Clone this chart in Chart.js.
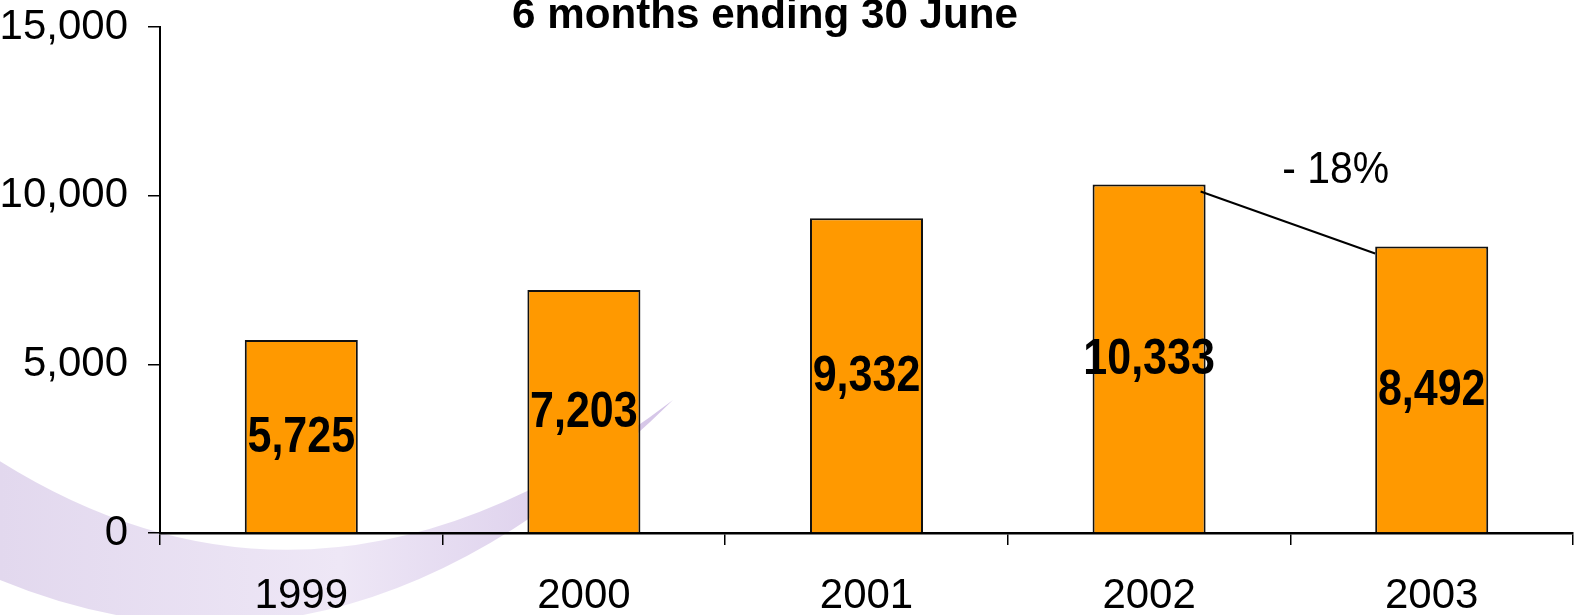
<!DOCTYPE html>
<html>
<head>
<meta charset="utf-8">
<script src="https://cdn.jsdelivr.net/npm/chart.js@4/dist/chart.umd.min.js"></script>
<style>
  html, body { margin: 0; padding: 0; background: #fff; }
  #wrap { width: 1581px; height: 615px; }
</style>
</head>
<body>
<div id="wrap"><canvas id="halfYear" width="1581" height="615"></canvas></div>
<script>
        const years = ['1999', '2000', '2001', '2002', '2003'];
        const totals = [5725, 7203, 9332, 10333, 8492];
        const yTicks = [0, 5000, 10000, 15000];
        const chartTitle = '6 months ending 30 June';

        const FONT = '"Liberation Sans", Arial, sans-serif';

        // purple swoosh in the lower left, behind everything
        const swoosh = {
            id: 'swoosh',
            beforeDraw(chart) {
                const ctx = chart.ctx;
                ctx.save();
                const g = ctx.createLinearGradient(0, 0, 680, 0);
                g.addColorStop(0, 'rgba(226,216,238,1)');
                g.addColorStop(0.5, 'rgba(238,231,246,1)');
                g.addColorStop(1, 'rgba(212,196,231,1)');
                ctx.fillStyle = g;
                ctx.beginPath();
                ctx.moveTo(-5, 458);
                ctx.quadraticCurveTo(323, 667, 673, 400);
                ctx.quadraticCurveTo(343, 725, -5, 578);
                ctx.closePath();
                ctx.fill();
                ctx.restore();
            }
        };

        // draw text squeezed horizontally, like the original condensed type
        function squeezed(ctx, text, x, y, sx) {
            ctx.save();
            ctx.translate(x, y);
            ctx.scale(sx, 1);
            ctx.fillText(text, 0, 0);
            ctx.restore();
        }

        const labels = {
            id: 'labels',
            afterDatasetsDraw(chart) {
                const ctx = chart.ctx;
                const bars = chart.getDatasetMeta(0).data;
                ctx.save();
                ctx.fillStyle = '#000';
                ctx.font = 'bold 50px ' + FONT;
                ctx.textAlign = 'center';
                ctx.textBaseline = 'middle';
                bars.forEach((bar, i) => {
                    squeezed(ctx, totals[i].toLocaleString('en-US'), bar.x, (bar.y + bar.base) / 2 + 2, 0.86);
                });

                // change between the last two years
                const a = bars[3], b = bars[4];
                const pct = Math.round((totals[4] - totals[3]) / totals[3] * 100);
                ctx.strokeStyle = '#000';
                ctx.lineWidth = 2;
                ctx.beginPath();
                ctx.moveTo(a.x + a.width / 2 - 5, a.y + 7);
                ctx.lineTo(b.x - b.width / 2, b.y + 7);
                ctx.stroke();
                ctx.font = '44px ' + FONT;
                ctx.textBaseline = 'alphabetic';
                squeezed(ctx, (pct < 0 ? '- ' : '+ ') + Math.abs(pct) + '%', b.x - 96, a.y - 1, 0.93);

                // title, top cut by the frame
                ctx.font = 'bold 43px ' + FONT;
                squeezed(ctx, chartTitle, 765, 28, 0.98);
                ctx.restore();
            }
        };

        new Chart(document.getElementById('halfYear'), {
            type: 'bar',
            data: {
                labels: years,
                datasets: [{
                    data: totals,
                    backgroundColor: '#FF9900',
                    borderColor: '#111',
                    borderWidth: 2,
                    barPercentage: 0.4,
                    categoryPercentage: 1
                }]
            },
            options: {
                responsive: false,
                animation: false,
                layout: { padding: { top: 27, right: 8, left: 0, bottom: 0 } },
                plugins: {
                    legend: { display: false },
                    tooltip: { enabled: false },
                    title: { display: false }
                },
                scales: {
                    x: {
                        offset: true,
                        grid: { offset: true, drawOnChartArea: false, tickLength: 12, color: '#000', lineWidth: 1.5 },
                        border: { display: true, color: '#000', width: 2.5 },
                        ticks: { color: '#000', font: { family: FONT, size: 42 }, padding: 26, maxRotation: 0 },
                        afterFit(s) { s.height = 82; s.paddingLeft = 0; s.paddingRight = 0; }
                    },
                    y: {
                        min: 0,
                        max: 15000,
                        afterBuildTicks(s) { s.ticks = yTicks.map(v => ({ value: v })); },
                        grid: { drawOnChartArea: false, tickLength: 12, color: '#000', lineWidth: 1.5 },
                        border: { display: true, color: '#000', width: 2 },
                        ticks: {
                            color: '#000',
                            font: { family: FONT, size: 42 },
                            padding: 20,
                            callback: v => v.toLocaleString('en-US')
                        },
                        afterFit(s) { s.width = 160; s.paddingTop = 0; s.paddingBottom = 0; }
                    }
                }
            },
            plugins: [swoosh, labels]
        });
</script>
</body>
</html>
